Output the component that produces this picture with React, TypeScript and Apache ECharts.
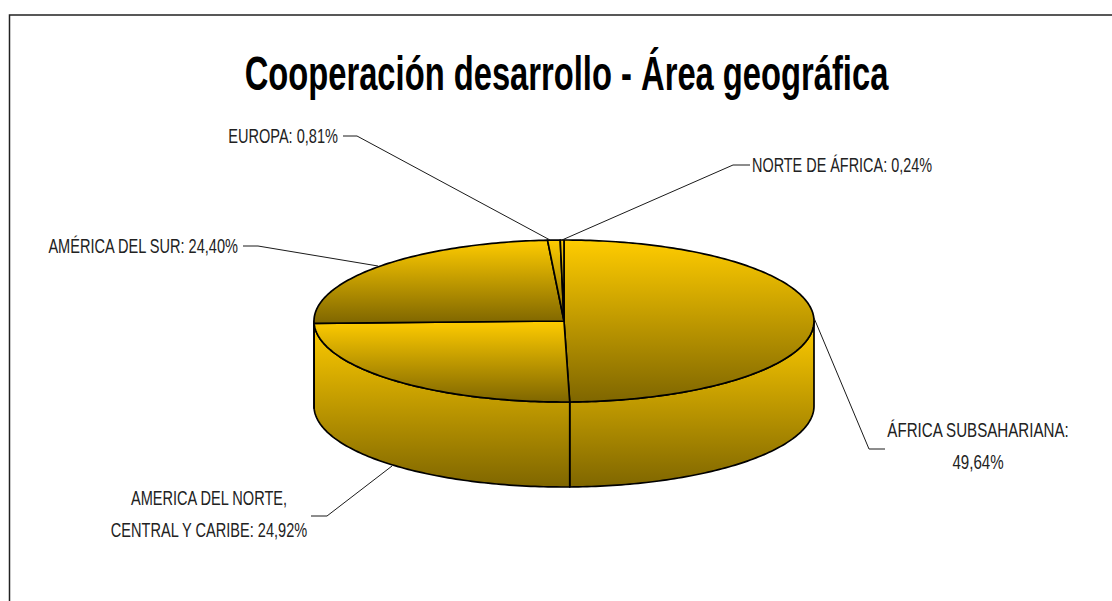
import React, { useEffect, useRef } from "react";
import * as echarts from "echarts";

const regions = [
  "ÁFRICA SUBSAHARIANA",
  "AMERICA DEL NORTE, CENTRAL Y CARIBE",
  "AMÉRICA DEL SUR",
  "EUROPA",
  "NORTE DE ÁFRICA",
];
const shares = [49.64, 24.92, 24.4, 0.81, 0.24];
const labelTexts = [
  "ÁFRICA SUBSAHARIANA:\n49,64%",
  "AMERICA DEL NORTE,\nCENTRAL Y CARIBE: 24,92%",
  "AMÉRICA DEL SUR: 24,40%",
  "EUROPA: 0,81%",
  "NORTE DE ÁFRICA: 0,24%",
];
const labelAnchors: [number, number, string, number][] = [
  [978, 414, "center", 0.775],
  [209, 482, "center", 0.747],
  [238, 246, "right", 0.747],
  [338, 136, "right", 0.747],
  [752, 165, "left", 0.74],
];
const leaderLines: [number, number][][] = [
  [[814, 318], [869, 449], [885, 449]],
  [[392, 466], [327, 516], [311, 516]],
  [[378, 266], [258, 246], [243, 246]],
  [[550, 240], [357, 136], [343, 136]],
  [[562, 240], [733, 165], [750, 165]],
];
const titleText = "Cooperación desarrollo - Área geográfica";

const CX = 564, CY = 321, RX = 250, RY = 81, DEPTH = 85;
const FONT = "'Liberation Sans', Arial, sans-serif";
const total = shares.reduce((a, b) => a + b, 0);
const gold = () =>
  new echarts.graphic.LinearGradient(0, 0, 0, 1, [
    { offset: 0, color: "#FFCC00" },
    { offset: 1, color: "#7F6600" },
  ]);
const pt = (deg: number, dy = 0): number[] => {
  const r = (deg * Math.PI) / 180;
  return [CX + RX * Math.sin(r), CY + dy - RY * Math.cos(r)];
};
const sweep = (from: number, to: number, dy = 0): number[][] => {
  const out: number[][] = [];
  const n = Math.max(2, Math.ceil(Math.abs(to - from)));
  for (let i = 0; i <= n; i++) out.push(pt(from + ((to - from) * i) / n, dy));
  return out;
};
const angleRange = (i: number): [number, number] => {
  let before = 0;
  for (let k = 0; k < i; k++) before += shares[k];
  return [(before / total) * 360, ((before + shares[i]) / total) * 360];
};

export default function App() {
  const ref = useRef<HTMLDivElement>(null);
  useEffect(() => {
    document.body.style.margin = "0";
    const chart = echarts.init(ref.current!, undefined, { renderer: "svg" });
    const data = shares.map((v, i) => ({ name: regions[i], value: [v, i] }));
    chart.setOption({
      animation: false,
      backgroundColor: "#ffffff",
      graphic: [
        {
          type: "rect",
          silent: true,
          shape: { x: 9.5, y: 15, width: 1140, height: 640 },
          style: { fill: "none", stroke: "#222", lineWidth: 1.5 },
        },
        {
          type: "text",
          silent: true,
          x: 566.5,
          y: 73,
          scaleX: 0.668,
          style: {
            text: titleText,
            fontFamily: FONT,
            fontSize: 49,
            fontWeight: "bold",
            fill: "#000",
            align: "center",
            verticalAlign: "middle",
          },
        },
        ...leaderLines.map((points) => ({
          type: "polyline",
          silent: true,
          z: 10,
          shape: { points },
          style: { fill: "none", stroke: "#1a1a1a", lineWidth: 1 },
        })),
        ...labelTexts.map((text, i) => ({
          type: "text",
          silent: true,
          z: 10,
          x: labelAnchors[i][0],
          y: labelAnchors[i][1],
          scaleX: labelAnchors[i][3],
          style: {
            text,
            fontFamily: FONT,
            fontSize: 19.5,
            lineHeight: 32,
            fill: "#222",
            align: labelAnchors[i][2],
            verticalAlign: text.includes("\n") ? "top" : "middle",
          },
        })),
      ],
      series: [
        {
          type: "custom",
          coordinateSystem: "none",
          silent: true,
          z: 2,
          data,
          renderItem: (_p: any, api: any) => {
            const [a, b] = angleRange(api.value(1));
            const from = Math.max(a, 90);
            const to = Math.min(b, 270);
            if (to <= from) return { type: "group", children: [] };
            return {
              type: "polygon",
              shape: { points: [...sweep(from, to), ...sweep(to, from, DEPTH)] },
              style: { fill: gold(), stroke: "#000", lineWidth: 1.7, lineJoin: "round" },
            };
          },
        },
        {
          type: "custom",
          coordinateSystem: "none",
          silent: true,
          z: 3,
          data,
          renderItem: (_p: any, api: any) => {
            const [a, b] = angleRange(api.value(1));
            return {
              type: "polygon",
              shape: { points: [[CX, CY], ...sweep(a, b)] },
              style: { fill: gold(), stroke: "#000", lineWidth: 1.7, lineJoin: "round" },
            };
          },
        },
      ],
    });
    return () => chart.dispose();
  }, []);
  return <div ref={ref} style={{ position: "fixed", left: 0, top: 0, width: 1112, height: 601 }} />;
}
